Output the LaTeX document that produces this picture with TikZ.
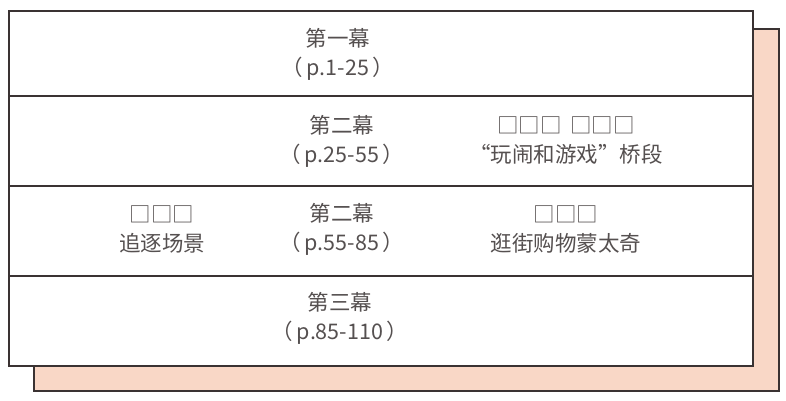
\documentclass[tikz,border=0pt]{standalone}
\usepackage{fontspec}
\newfontfamily\cjk{Noto Sans CJK SC}
\definecolor{edge}{HTML}{3A3232}
\definecolor{peach}{HTML}{F9D7C6}
\definecolor{txt}{HTML}{555050}
\begin{document}
\begin{tikzpicture}[x=1pt,y=-1pt,
  rowbox/.style={draw=edge,line width=1.6pt,fill=white,minimum width=744pt,minimum height=90pt,inner sep=0pt,anchor=north west},
  label/.style={font=\cjk\fontsize{21.5}{29}\selectfont,text=txt,align=center,inner sep=0pt}]
\useasboundingbox (0,0) rectangle (786,400);
\node[draw=edge,line width=1.6pt,fill=peach,minimum width=745pt,minimum height=362pt,inner sep=0pt,anchor=north west] (shadow) at (33,28) {};
\node[rowbox] (r1) at (8,10) {};
\node[rowbox] (r2) at (8,95) {};
\node[rowbox] (r3) at (8,185) {};
\node[rowbox,minimum height=90pt] (r4) at (8,275) {};
\node[label] (t1) at (338,54) {第一幕\\（\,p.1-25\,）};
\node[label] (t2) at (342,141) {第二幕\\（\,p.25-55\,）};
\node[label] (t2r) at (566,141) {□□□\ \,□□□\\“玩闹和游戏”桥段};
\node[label] (t3l) at (162,229) {□□□\\追逐场景};
\node[label] (t3) at (342,229) {第二幕\\（\,p.55-85\,）};
\node[label] (t3r) at (566,229) {□□□\\逛街购物蒙太奇};
\node[label] (t4) at (340,318) {第三幕\\（\,p.85-110\,）};
\end{tikzpicture}
\end{document}
